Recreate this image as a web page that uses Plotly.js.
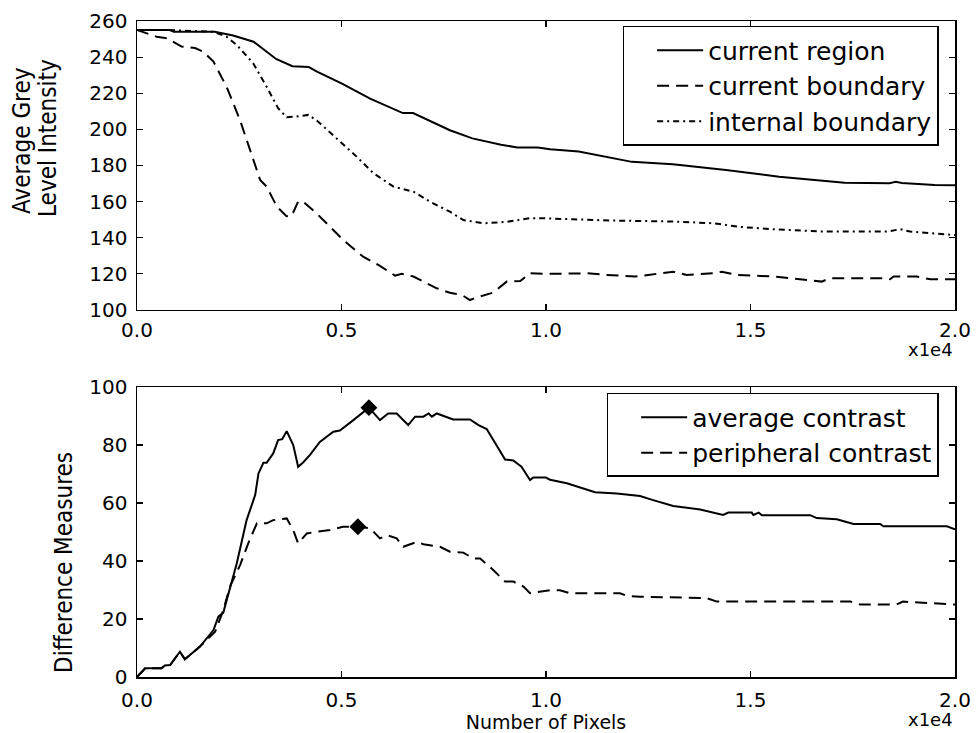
<!DOCTYPE html>
<html>
<head>
<meta charset="utf-8">
<script src="https://cdn.plot.ly/plotly-3.0.1.min.js"></script>
<style>html,body{margin:0;padding:0;background:#fff;}#chart{width:976px;height:733px;}</style>
</head>
<body>
<div id="chart"></div>
<script>
// ---- data (x = number of pixels) ----
const regionX = [0,800,900,1900,2350,2850,3400,3800,4200,4400,5000,5700,6500,6750,7650,8200,8900,9300,9800,10100,10800,12100,13100,14400,15700,16600,17300,18400,18550,18700,19500,20000];
const regionY = [255,255,254,254,252,248.5,239,235,234.5,232,225.5,217,209,209,199.5,195,191.5,190,190,189,187.7,182,180.7,177.5,173.8,172,170.5,170.2,171,170.3,169.2,169];

const boundaryX = [0,480,730,1090,1420,1620,1870,2190,2520,2760,3010,3170,3420,3650,3750,3820,3940,4060,4390,5040,5530,5940,6310,6470,6760,7330,7650,7780,7980,8140,8310,8710,9040,9370,9610,10100,11000,11480,12180,12500,13110,13440,14100,14300,14660,15560,16740,16940,18250,18410,18500,19060,19400,20000];
const boundaryY = [255,251.3,250.4,245.8,245,243,237.5,223.6,205,188.6,172,168.3,157.2,152,151.7,154,160,160,153.5,138.8,129.5,124.4,119,120,118.5,112,109.5,109,107.8,105.5,107,109.6,115.7,116,120.3,120,120.3,119.4,118.5,119.4,121.2,119.4,120.3,121.2,119.4,118.5,115.7,117.6,117.6,117,118.5,118.5,117,117];

const internalX = [0,800,1870,2190,2440,2840,3170,3450,3660,3860,4190,4390,4880,5370,5780,6270,6760,7160,7650,7980,8470,9040,9610,9900,10660,11640,13110,14100,14740,15560,16780,18330,18660,18900,19960,20000];
const internalY = [255,255,254,251.3,246.7,236.6,223.6,211.7,206.7,207,208,205,195,184.9,175.7,168.3,165.5,160,154.4,149.8,148,148.8,150.8,150.8,150.2,149.5,149,148,146,144.7,143.4,143.4,144.7,143.4,141.5,141.5];

const avgX = [0,200,600,680,810,1050,1170,1540,1870,1990,2110,2270,2440,2680,2890,2970,3090,3170,3330,3450,3550,3660,3820,3940,4060,4230,4470,4800,4960,5290,5670,5940,6140,6350,6630,6800,7000,7130,7210,7330,7730,8140,8350,8550,8790,9000,9200,9400,9610,9690,10000,10100,10510,10910,11200,11730,12300,12620,13110,13770,14330,14460,15030,15070,15200,15280,16460,16620,17110,17520,18170,18250,19800,20000];
const avgY = [0,3,3,4,4.1,8.7,6.1,10.5,16.2,20.8,22.2,30,39.2,54.1,62.8,70.2,73.9,73.9,77.1,81.7,82,84.8,80,72.5,74,76.6,81.1,84.6,85,88.6,92.9,88.6,90.9,90.9,86.9,89.8,89.8,90.9,89.8,90.9,88.8,88.8,86.9,85.5,80,75,74.7,72.5,67.9,68.8,68.8,68,66.8,65,63.7,63.3,62.4,61,59,57.8,55.9,56.7,56.7,55.9,56.7,55.8,55.8,54.8,54.4,52.8,52.8,52,52,50.9];

const periX = [0,200,600,680,810,1050,1170,1540,1910,2110,2270,2520,2720,2930,3170,3330,3660,3820,3940,4150,4390,4720,5040,5400,5700,5940,6110,6350,6510,6840,7000,7410,7650,7980,8220,8390,8710,9000,9200,9450,9610,10100,10340,10590,11810,11970,12300,13930,14180,17440,17680,18570,18730,19870,20000];
const periY = [0,3,3,4,4.1,8.7,6.1,10.5,15.6,23,31.1,38.6,46.1,53,53,54.1,54.7,50.7,46.1,49.5,50.1,50.7,51.8,51.8,51.3,47.8,48.9,47.8,44.9,46.6,45.8,44.9,43.2,42.9,40.9,40.9,36.9,32.9,32.9,31.2,28.9,29.9,29.9,28.9,28.9,28,27.7,27.2,26,26,25,25,26,25,25];

const avgPeakX = [5670], avgPeakY = [92.9];
const periPeakX = [5400], periPeakY = [51.8];

const xTickVals = [0,5000,10000,15000,20000];
const xTickText = ['0.0','0.5','1.0','1.5','2.0'];
const topYTicks = [100,120,140,160,180,200,220,240,260];
const botYTicks = [0,20,40,60,80,100];

// ---- styling ----
const FONT = 'DejaVu Sans, Verdana, sans-serif';
const NARROW = 'Liberation Sans Narrow, DejaVu Sans Condensed, sans-serif';
const line = (dash) => ({color:'#000', width:2, dash:dash});
const DASH = '12px,7px';
const DASHDOT = '6px,4px,2px,4px';

const traces = [
  {x:regionX, y:regionY, mode:'lines', name:'current region', line:line('solid'), xaxis:'x', yaxis:'y', legend:'legend'},
  {x:boundaryX, y:boundaryY, mode:'lines', name:'current boundary', line:line(DASH), xaxis:'x', yaxis:'y', legend:'legend'},
  {x:internalX, y:internalY, mode:'lines', name:'internal boundary', line:line(DASHDOT), xaxis:'x', yaxis:'y', legend:'legend'},
  {x:avgX, y:avgY, mode:'lines', name:'average contrast', line:line('solid'), xaxis:'x2', yaxis:'y2', legend:'legend2'},
  {x:periX, y:periY, mode:'lines', name:'peripheral contrast', line:line(DASH), xaxis:'x2', yaxis:'y2', legend:'legend2'},
  {x:avgPeakX, y:avgPeakY, mode:'markers', showlegend:false, marker:{symbol:'diamond', size:13, color:'#000'}, xaxis:'x2', yaxis:'y2'},
  {x:periPeakX, y:periPeakY, mode:'markers', showlegend:false, marker:{symbol:'diamond', size:13, color:'#000'}, xaxis:'x2', yaxis:'y2'}
];

const axisBase = {
  showline:true, linecolor:'#000', linewidth:1.5, mirror:'ticks',
  ticks:'inside', ticklen:6, tickwidth:1.2, tickcolor:'#000',
  showgrid:false, zeroline:false, automargin:false,
  tickfont:{family:FONT, size:20, color:'#000'}
};

const legendBase = {
  font:{family:FONT, size:25, color:'#000'}, bgcolor:'#fff',
  bordercolor:'#000', borderwidth:1.5, xanchor:'right', yanchor:'top',
  itemwidth:46, indentation:28, tracegroupgap:0, entrywidthmode:'pixels'
};

const layout = {
  width:976, height:733,
  paper_bgcolor:'#fff', plot_bgcolor:'#fff',
  margin:{l:137, r:21, t:21, b:56},
  showlegend:true,
  xaxis:Object.assign({}, axisBase, {domain:[0,1], anchor:'y', range:[0,20000], tickvals:xTickVals, ticktext:xTickText, ticklabelstandoff:2}),
  yaxis:Object.assign({}, axisBase, {domain:[0.5595,1], anchor:'x', range:[100,260], tickvals:topYTicks, ticklabelstandoff:4}),
  xaxis2:Object.assign({}, axisBase, {domain:[0,1], anchor:'y2', range:[0,20000], tickvals:xTickVals, ticktext:xTickText, ticklabelstandoff:4,
    title:{text:'Number of Pixels', font:{family:FONT, size:19, color:'#000'}, standoff:7}}),
  yaxis2:Object.assign({}, axisBase, {domain:[0,0.442], anchor:'x2', range:[0,100], tickvals:botYTicks, ticklabelstandoff:4}),
  legend:Object.assign({}, legendBase, {x:0.980, y:0.9924, entrywidth:250}),
  legend2:Object.assign({}, legendBase, {x:0.980, y:0.433, entrywidth:262}),
  annotations:[
    {xref:'paper', yref:'paper', x:1, xanchor:'right', y:(677-350)/656, yanchor:'middle', text:'x1e4', showarrow:false, font:{family:FONT, size:18, color:'#000'}},
    {xref:'paper', yref:'paper', x:1, xanchor:'right', y:(677-719)/656, yanchor:'middle', text:'x1e4', showarrow:false, font:{family:FONT, size:18, color:'#000'}},
    {xref:'paper', yref:'paper', x:(22-137)/818, xanchor:'center', y:(677-140)/656, yanchor:'middle', textangle:-90, text:'Average Grey', showarrow:false, font:{family:NARROW, size:24, color:'#000'}},
    {xref:'paper', yref:'paper', x:(48-137)/818, xanchor:'center', y:(677-138)/656, yanchor:'middle', textangle:-90, text:'Level Intensity', showarrow:false, font:{family:NARROW, size:24, color:'#000'}},
    {xref:'paper', yref:'paper', x:(64-137)/818, xanchor:'center', y:(677-563)/656, yanchor:'middle', textangle:-90, text:'Difference Measures', showarrow:false, font:{family:NARROW, size:24, color:'#000'}}
  ]
};

Plotly.newPlot('chart', traces, layout, {staticPlot:true, displayModeBar:false});
</script>
</body>
</html>
